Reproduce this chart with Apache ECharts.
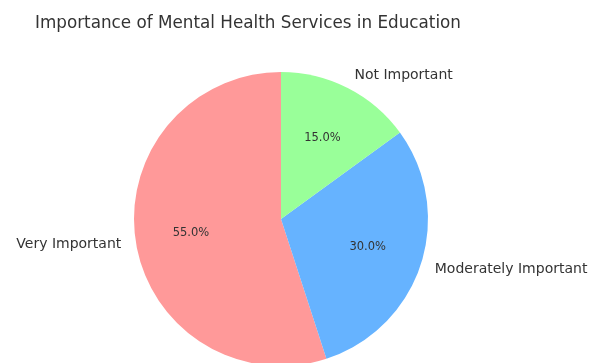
<!DOCTYPE html>
<html>
<head>
<meta charset="utf-8">
<script src="https://cdn.jsdelivr.net/npm/echarts@6/dist/echarts.min.js"></script>
<style>
  html, body { margin: 0; padding: 0; background: #fff; }
  #chart { width: 592px; height: 363px; }
</style>
</head>
<body>
<div id="chart"></div>
<script>
// Survey shares, drawn counter-clockwise from 12 o'clock
const categories = ['Very Important', 'Moderately Important', 'Not Important'];
const shares = [55, 30, 15];
const colors = ['#ff9999', '#66b3ff', '#99ff99'];

const FONT = 'DejaVu Sans';
const center = [281, 219];
const R = 147;

const pieData = categories.map((name, i) => ({
  name: name,
  value: shares[i],
  itemStyle: { color: colors[i] }
}));

const common = {
  type: 'pie',
  center: center,
  startAngle: 90,
  clockwise: false,
  avoidLabelOverlap: false,
  animation: false,
  silent: true
};

const chart = echarts.init(document.getElementById('chart'), null, { renderer: 'canvas' });
chart.setOption({
  backgroundColor: '#ffffff',
  title: {
    text: 'Importance of Mental Health Services in Education',
    left: 243,
    top: 10,
    textAlign: 'center',
    textStyle: { fontFamily: FONT, fontSize: 16.8, fontWeight: 'normal', color: '#333333' }
  },
  series: [
    // the slices themselves
    Object.assign({}, common, {
      radius: [0, R],
      data: pieData,
      label: { show: false },
      labelLine: { show: false }
    }),
    // percentage labels at 0.6 of the radius
    Object.assign({}, common, {
      radius: [0.2 * R, R],
      data: pieData.map(d => ({ name: d.name, value: d.value, itemStyle: { color: 'rgba(0,0,0,0)' } })),
      label: {
        show: true,
        position: 'inside',
        formatter: p => p.value.toFixed(1) + '%',
        fontFamily: FONT,
        fontSize: 11.5,
        color: '#333333'
      },
      labelLine: { show: false }
    }),
    // category names at 1.1 of the radius
    Object.assign({}, common, {
      radius: [0, 1.1 * R],
      data: pieData.map(d => ({ name: d.name, value: d.value, itemStyle: { color: 'rgba(0,0,0,0)' } })),
      label: {
        show: true,
        position: 'outside',
        formatter: '{b}',
        distanceToLabelLine: 0,
        fontFamily: FONT,
        fontSize: 14,
        color: '#333333'
      },
      labelLine: { show: false, length: 0, length2: 0 }
    })
  ]
});
</script>
</body>
</html>
